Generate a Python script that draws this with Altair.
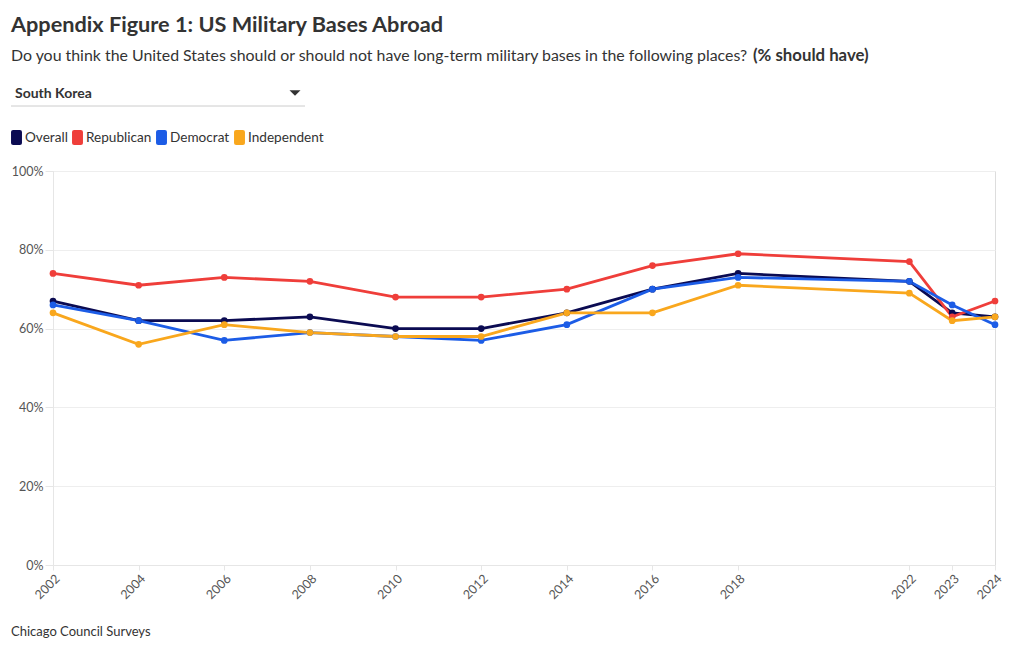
import altair as alt
import pandas as pd

years = [2002, 2004, 2006, 2008, 2010, 2012, 2014, 2016, 2018, 2022, 2023, 2024]
overall = [67, 62, 62, 63, 60, 60, 64, 70, 74, 72, 64, 63]
republican = [74, 71, 73, 72, 68, 68, 70, 76, 79, 77, 63, 67]
democrat = [66, 62, 57, 59, 58, 57, 61, 70, 73, 72, 66, 61]
independent = [64, 56, 61, 59, 58, 58, 64, 64, 71, 69, 62, 63]

series_names = ["Overall", "Republican", "Democrat", "Independent"]
series_colors = ["#0b0b52", "#ef3e3a", "#1c5ce6", "#f9a71d"]

title_text = "Appendix Figure 1: US Military Bases Abroad"
subtitle_regular = "Do you think the United States should or should not have long-term military bases in the following places?"
subtitle_bold = "(% should have)"
dropdown_text = "South Korea"
footer_text = "Chicago Council Surveys"

FONT = "Lato"

rows = []
for name, vals in zip(series_names, [overall, republican, democrat, independent]):
    for y, v in zip(years, vals):
        rows.append({"year": y, "value": v / 100.0, "series": name})
df = pd.DataFrame(rows)

ROUNDED = "M-0.45,-1 L0.45,-1 Q0.73,-1 0.73,-0.72 L0.73,0.72 Q0.73,1 0.45,1 L-0.45,1 Q-0.73,1 -0.73,0.72 L-0.73,-0.72 Q-0.73,-1 -0.45,-1 Z"

color = alt.Color(
    "series:N",
    scale=alt.Scale(domain=series_names, range=series_colors),
    legend=alt.Legend(
        orient="none", legendX=-44, legendY=-41, direction="horizontal",
        title=None, labelFontSize=13.6, labelColor="#333333", labelFont=FONT,
        symbolType=ROUNDED, symbolSize=225, symbolStrokeWidth=0, symbolOpacity=1,
        labelOffset=1, columnPadding=2,
    ),
)

x = alt.X(
    "year:Q",
    scale=alt.Scale(domain=[2002, 2024], nice=False, zero=False),
    axis=alt.Axis(
        values=years, format="d", labelAngle=-45, title=None, grid=False,
        domainColor="#e6e6e6", tickColor="#e6e6e6", tickSize=5,
        labelFontSize=12.5, labelColor="#555555", labelFont=FONT, labelPadding=2,
    ),
)
y = alt.Y(
    "value:Q",
    scale=alt.Scale(domain=[0, 1]),
    axis=alt.Axis(
        values=[0, 0.2, 0.4, 0.6, 0.8, 1.0], format=".0%", title=None,
        gridColor="#eeeeee", domainColor="#e6e6e6", tickColor="#e6e6e6",
        tickSize=8, labelPadding=2, labelFontSize=12.5, labelColor="#555555", labelFont=FONT,
    ),
)

base = alt.Chart(df)
points = base.mark_point(filled=True, size=45, opacity=1).encode(x=x, y=y, color=color)
lines = base.mark_line(strokeWidth=2.8).encode(x=x, y=y, color=color, detail="series:N")

one = pd.DataFrame({"k": [0]})

title = alt.Chart(pd.DataFrame({"t": [title_text]})).mark_text(
    align="left", baseline="alphabetic", font=FONT, fontSize=21.7, fontWeight="bold", color="#333333"
).encode(text="t:N", x=alt.value(-42), y=alt.value(-139))

sub1 = alt.Chart(pd.DataFrame({"t": [subtitle_regular]})).mark_text(
    align="left", baseline="alphabetic", font=FONT, fontSize=15.9, color="#333333"
).encode(text="t:N", x=alt.value(-42), y=alt.value(-110))

sub2 = alt.Chart(pd.DataFrame({"t": [subtitle_bold]})).mark_text(
    align="left", baseline="alphabetic", font=FONT, fontSize=16.8, fontWeight="bold", color="#333333"
).encode(text="t:N", x=alt.value(700), y=alt.value(-110))

dropdown = alt.Chart(pd.DataFrame({"t": [dropdown_text]})).mark_text(
    align="left", baseline="alphabetic", font=FONT, fontSize=14, fontWeight="bold", color="#333333"
).encode(text="t:N", x=alt.value(-38), y=alt.value(-73))

underline = alt.Chart(one).mark_rule(color="#cccccc", strokeWidth=1).encode(
    x=alt.value(-42), x2=alt.value(252), y=alt.value(-65)
)

triangle = alt.Chart(one).mark_point(
    shape="M-1,-0.5 L1,-0.5 L0,0.5 Z", filled=True, size=120, color="#333333", opacity=1
).encode(x=alt.value(242), y=alt.value(-78))

footer = alt.Chart(pd.DataFrame({"t": [footer_text]})).mark_text(
    align="left", baseline="alphabetic", font=FONT, fontSize=13, color="#333333"
).encode(text="t:N", x=alt.value(-42), y=alt.value(465))

chart = alt.layer(lines, points, title, sub1, sub2, dropdown, underline, triangle, footer).properties(
    width=942, height=394,
    autosize=alt.AutoSizeParams(type="none"),
    padding={"left": 45, "top": 163, "right": 17, "bottom": 77},
).configure_view(stroke=None).configure(font=FONT)

chart.save("out.html", embed_options={"renderer": "svg", "actions": False})
